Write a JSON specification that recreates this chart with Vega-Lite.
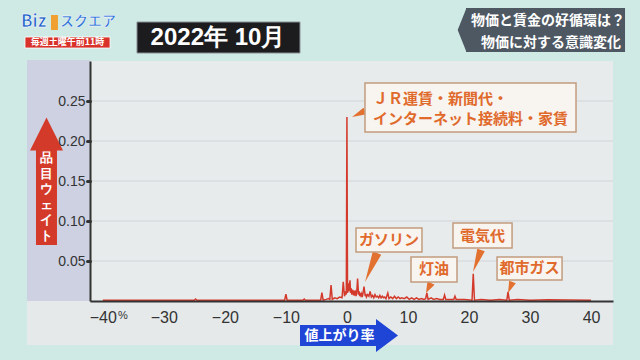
{
  "$schema": "https://vega.github.io/schema/vega-lite/v6.json",
  "width": 523,
  "height": 240,
  "autosize": {"type": "none"},
  "padding": {"left": 90, "top": 61, "right": 27, "bottom": 59},
  "background": "#cfe9e5",
  "config": {
    "view": {"fill": "#e8ebec", "stroke": null},
    "text": {"font": "Noto Sans CJK JP"}
  },
  "layer": [
    {
      "data": {"values": [{}]},
      "mark": {"type": "rect", "fill": "#cdd1e2"},
      "encoding": {
        "x": {"datum": -52.42, "type": "quantitative"},
        "x2": {"datum": -42.1},
        "y": {"datum": 0.30125, "type": "quantitative"},
        "y2": {"datum": 0}
      }
    },
    {
      "data": {"values": [{}]},
      "mark": {"type": "rect", "fill": "#e5e9ea"},
      "encoding": {
        "x": {"datum": -52.42, "type": "quantitative"},
        "x2": {"datum": 43.6},
        "y": {"datum": 0, "type": "quantitative"},
        "y2": {"datum": -0.055}
      }
    },
    {
      "data": {"values": [{"g": 0.05}, {"g": 0.1}, {"g": 0.15}, {"g": 0.2}, {"g": 0.25}]},
      "mark": {"type": "rule", "stroke": "#d2d5d8", "strokeWidth": 1},
      "encoding": {"y": {"field": "g", "type": "quantitative"}}
    },
    {
      "data": {"values": [
        {"rate": -40, "weight": 0.001},
        {"rate": -25, "weight": 0.001},
        {"rate": -24.8, "weight": 0.0025},
        {"rate": -24.6, "weight": 0.001},
        {"rate": -10.2, "weight": 0.001},
        {"rate": -10.0, "weight": 0.0085},
        {"rate": -9.8, "weight": 0.001},
        {"rate": -7.2, "weight": 0.001},
        {"rate": -7.0, "weight": 0.0025},
        {"rate": -6.8, "weight": 0.001},
        {"rate": -4.3, "weight": 0.001},
        {"rate": -4.1, "weight": 0.0105},
        {"rate": -3.9, "weight": 0.001},
        {"rate": -3.4, "weight": 0.002},
        {"rate": -3.0, "weight": 0.003},
        {"rate": -2.8, "weight": 0.002},
        {"rate": -2.6, "weight": 0.020},
        {"rate": -2.4, "weight": 0.002},
        {"rate": -2.0, "weight": 0.004},
        {"rate": -1.6, "weight": 0.003},
        {"rate": -1.2, "weight": 0.005},
        {"rate": -0.8, "weight": 0.004},
        {"rate": -0.6, "weight": 0.024},
        {"rate": -0.4, "weight": 0.006},
        {"rate": -0.2, "weight": 0.012},
        {"rate": -0.1, "weight": 0.008},
        {"rate": 0.0, "weight": 0.230},
        {"rate": 0.1, "weight": 0.010},
        {"rate": 0.2, "weight": 0.022},
        {"rate": 0.3, "weight": 0.012},
        {"rate": 0.4, "weight": 0.018},
        {"rate": 0.5, "weight": 0.026},
        {"rate": 0.6, "weight": 0.010},
        {"rate": 0.7, "weight": 0.016},
        {"rate": 0.8, "weight": 0.008},
        {"rate": 0.9, "weight": 0.014},
        {"rate": 1.0, "weight": 0.012},
        {"rate": 1.1, "weight": 0.007},
        {"rate": 1.2, "weight": 0.013},
        {"rate": 1.3, "weight": 0.009},
        {"rate": 1.4, "weight": 0.011},
        {"rate": 1.5, "weight": 0.006},
        {"rate": 1.6, "weight": 0.010},
        {"rate": 1.75, "weight": 0.028},
        {"rate": 1.9, "weight": 0.008},
        {"rate": 2.0, "weight": 0.012},
        {"rate": 2.1, "weight": 0.006},
        {"rate": 2.2, "weight": 0.010},
        {"rate": 2.3, "weight": 0.007},
        {"rate": 2.4, "weight": 0.009},
        {"rate": 2.5, "weight": 0.005},
        {"rate": 2.6, "weight": 0.008},
        {"rate": 2.8, "weight": 0.018},
        {"rate": 3.0, "weight": 0.006},
        {"rate": 3.1, "weight": 0.009},
        {"rate": 3.2, "weight": 0.005},
        {"rate": 3.4, "weight": 0.008},
        {"rate": 3.6, "weight": 0.006},
        {"rate": 3.8, "weight": 0.012},
        {"rate": 4.0, "weight": 0.005},
        {"rate": 4.2, "weight": 0.007},
        {"rate": 4.4, "weight": 0.004},
        {"rate": 4.6, "weight": 0.008},
        {"rate": 4.8, "weight": 0.005},
        {"rate": 5.0, "weight": 0.006},
        {"rate": 5.2, "weight": 0.004},
        {"rate": 5.4, "weight": 0.007},
        {"rate": 5.6, "weight": 0.004},
        {"rate": 5.8, "weight": 0.006},
        {"rate": 6.0, "weight": 0.004},
        {"rate": 6.2, "weight": 0.005},
        {"rate": 6.4, "weight": 0.003},
        {"rate": 6.7, "weight": 0.010},
        {"rate": 6.9, "weight": 0.003},
        {"rate": 7.2, "weight": 0.005},
        {"rate": 7.5, "weight": 0.003},
        {"rate": 7.8, "weight": 0.006},
        {"rate": 8.1, "weight": 0.003},
        {"rate": 8.4, "weight": 0.005},
        {"rate": 8.7, "weight": 0.003},
        {"rate": 9.0, "weight": 0.004},
        {"rate": 9.4, "weight": 0.003},
        {"rate": 9.8, "weight": 0.005},
        {"rate": 10.2, "weight": 0.002},
        {"rate": 10.6, "weight": 0.004},
        {"rate": 11.0, "weight": 0.002},
        {"rate": 11.4, "weight": 0.004},
        {"rate": 11.8, "weight": 0.002},
        {"rate": 12.2, "weight": 0.003},
        {"rate": 12.6, "weight": 0.002},
        {"rate": 12.9, "weight": 0.003},
        {"rate": 13.1, "weight": 0.010},
        {"rate": 13.3, "weight": 0.002},
        {"rate": 13.8, "weight": 0.004},
        {"rate": 14.2, "weight": 0.002},
        {"rate": 14.7, "weight": 0.003},
        {"rate": 15.2, "weight": 0.002},
        {"rate": 15.8, "weight": 0.002},
        {"rate": 16.0, "weight": 0.0075},
        {"rate": 16.2, "weight": 0.002},
        {"rate": 16.8, "weight": 0.002},
        {"rate": 17.5, "weight": 0.002},
        {"rate": 17.7, "weight": 0.006},
        {"rate": 17.9, "weight": 0.002},
        {"rate": 18.5, "weight": 0.002},
        {"rate": 19.3, "weight": 0.002},
        {"rate": 20.5, "weight": 0.001},
        {"rate": 20.7, "weight": 0.034},
        {"rate": 20.9, "weight": 0.001},
        {"rate": 22.0, "weight": 0.002},
        {"rate": 23.5, "weight": 0.001},
        {"rate": 25.0, "weight": 0.002},
        {"rate": 26.2, "weight": 0.001},
        {"rate": 26.4, "weight": 0.0115},
        {"rate": 26.6, "weight": 0.001},
        {"rate": 28.0, "weight": 0.002},
        {"rate": 30.0, "weight": 0.001},
        {"rate": 33.0, "weight": 0.0015},
        {"rate": 40.0, "weight": 0.001}
      ]},
      "mark": {"type": "line", "stroke": "#d33a2c", "strokeWidth": 1.5},
      "encoding": {
        "x": {
          "field": "rate", "type": "quantitative",
          "scale": {"domain": [-42.1, 43.6], "nice": false, "zero": false},
          "axis": {
            "title": null, "values": [-40, -30, -20, -10, 0, 10, 20, 30, 40], "format": "d",
            "domainColor": "#333333", "domainWidth": 2, "ticks": false, "grid": false,
            "labelFont": "Liberation Sans", "labelFontSize": 16, "labelColor": "#333333",
            "labelPadding": 8, "labelFlush": false, "zindex": 1
          }
        },
        "y": {
          "field": "weight", "type": "quantitative",
          "scale": {"domain": [0, 0.3], "nice": false},
          "axis": {
            "title": null, "values": [0.05, 0.1, 0.15, 0.2, 0.25], "format": ".2f",
            "domainColor": "#333333", "domainWidth": 2, "tickColor": "#333333",
            "tickSize": 3, "tickWidth": 3, "tickCap": "round", "grid": false,
            "labelFont": "Liberation Sans", "labelFontSize": 14, "labelColor": "#333333",
            "labelPadding": 2, "zindex": 1
          }
        }
      }
    },
    {
      "data": {"values": [{}]},
      "mark": {"type": "point", "shape": "M-0.29,-1 L0.29,-1 L0,1 Z", "filled": true, "fill": "#e2702e", "opacity": 1, "size": 986, "angle": 22.5},
      "encoding": {
        "x": {"datum": 3.95, "type": "quantitative"},
        "y": {"datum": 0.041875, "type": "quantitative"}
      }
    },
    {
      "data": {"values": [{}]},
      "mark": {"type": "point", "shape": "M-0.71,-1 L0.71,-1 L0,1 Z", "filled": true, "fill": "#e2702e", "opacity": 1, "size": 125, "angle": 26.6},
      "encoding": {
        "x": {"datum": 13.37, "type": "quantitative"},
        "y": {"datum": 0.01625, "type": "quantitative"}
      }
    },
    {
      "data": {"values": [{}]},
      "mark": {"type": "point", "shape": "M-0.34,-1 L0.34,-1 L0,1 Z", "filled": true, "fill": "#e2702e", "opacity": 1, "size": 548, "angle": 20},
      "encoding": {
        "x": {"datum": 21.32, "type": "quantitative"},
        "y": {"datum": 0.05, "type": "quantitative"}
      }
    },
    {
      "data": {"values": [{}]},
      "mark": {"type": "point", "shape": "M-0.6,-1 L0.6,-1 L0,1 Z", "filled": true, "fill": "#e2702e", "opacity": 1, "size": 141, "angle": 22},
      "encoding": {
        "x": {"datum": 26.77, "type": "quantitative"},
        "y": {"datum": 0.016875, "type": "quantitative"}
      }
    },
    {
      "data": {"values": [{}]},
      "mark": {"type": "point", "shape": "M-0.49,-1 L0.49,-1 L0,1 Z", "filled": true, "fill": "#e2702e", "opacity": 1, "size": 204, "angle": 65},
      "encoding": {
        "x": {"datum": 1.9, "type": "quantitative"},
        "y": {"datum": 0.23375, "type": "quantitative"}
      }
    },
    {
      "data": {"values": [{}]},
      "mark": {"type": "rect", "fill": "#f8f4f0", "stroke": "#c29c7e", "strokeWidth": 1.5},
      "encoding": {
        "x": {"datum": 2.96, "type": "quantitative"},
        "x2": {"datum": 37.54},
        "y": {"datum": 0.2725, "type": "quantitative"},
        "y2": {"datum": 0.21125}
      }
    },
    {
      "data": {"values": [{}]},
      "mark": {"type": "rect", "fill": "#f8f4f0", "stroke": "#c29c7e", "strokeWidth": 1.5},
      "encoding": {
        "x": {"datum": 1.49, "type": "quantitative"},
        "x2": {"datum": 12.3},
        "y": {"datum": 0.09125, "type": "quantitative"},
        "y2": {"datum": 0.06125}
      }
    },
    {
      "data": {"values": [{}]},
      "mark": {"type": "rect", "fill": "#f8f4f0", "stroke": "#c29c7e", "strokeWidth": 1.5},
      "encoding": {
        "x": {"datum": 10.5, "type": "quantitative"},
        "x2": {"datum": 18.04},
        "y": {"datum": 0.055, "type": "quantitative"},
        "y2": {"datum": 0.02375}
      }
    },
    {
      "data": {"values": [{}]},
      "mark": {"type": "rect", "fill": "#f8f4f0", "stroke": "#c29c7e", "strokeWidth": 1.5},
      "encoding": {
        "x": {"datum": 17.38, "type": "quantitative"},
        "x2": {"datum": 27.06},
        "y": {"datum": 0.0975, "type": "quantitative"},
        "y2": {"datum": 0.06625}
      }
    },
    {
      "data": {"values": [{}]},
      "mark": {"type": "rect", "fill": "#f8f4f0", "stroke": "#c29c7e", "strokeWidth": 1.5},
      "encoding": {
        "x": {"datum": 24.6, "type": "quantitative"},
        "x2": {"datum": 35.25},
        "y": {"datum": 0.055, "type": "quantitative"},
        "y2": {"datum": 0.02625}
      }
    },
    {
      "data": {"values": [{}]},
      "mark": {"type": "text", "text": "ＪＲ運賃・新聞代・\nインターネット接続料・家賃", "lineBreak": "\n", "lineHeight": 20, "align": "left", "baseline": "middle", "fontSize": 15, "fontWeight": "bold", "fill": "#e06a2c"},
      "encoding": {
        "x": {"datum": 4.27, "type": "quantitative"},
        "y": {"datum": 0.2525, "type": "quantitative"}
      }
    },
    {
      "data": {"values": [{}]},
      "mark": {"type": "text", "text": "ガソリン", "align": "center", "baseline": "middle", "fontSize": 15, "fontWeight": "bold", "fill": "#e06a2c"},
      "encoding": {
        "x": {"datum": 6.89, "type": "quantitative"},
        "y": {"datum": 0.07625, "type": "quantitative"}
      }
    },
    {
      "data": {"values": [{}]},
      "mark": {"type": "text", "text": "灯油", "align": "center", "baseline": "middle", "fontSize": 15, "fontWeight": "bold", "fill": "#e06a2c"},
      "encoding": {
        "x": {"datum": 14.27, "type": "quantitative"},
        "y": {"datum": 0.04, "type": "quantitative"}
      }
    },
    {
      "data": {"values": [{}]},
      "mark": {"type": "text", "text": "電気代", "align": "center", "baseline": "middle", "fontSize": 15, "fontWeight": "bold", "fill": "#e06a2c"},
      "encoding": {
        "x": {"datum": 22.22, "type": "quantitative"},
        "y": {"datum": 0.08125, "type": "quantitative"}
      }
    },
    {
      "data": {"values": [{}]},
      "mark": {"type": "text", "text": "都市ガス", "align": "center", "baseline": "middle", "fontSize": 15, "fontWeight": "bold", "fill": "#e06a2c"},
      "encoding": {
        "x": {"datum": 29.92, "type": "quantitative"},
        "y": {"datum": 0.04125, "type": "quantitative"}
      }
    },
    {
      "data": {"values": [{}]},
      "mark": {"type": "rect", "fill": "#1c1c1e", "stroke": "#8a8f94", "strokeWidth": 1},
      "encoding": {
        "x": {"datum": -34.4, "type": "quantitative"},
        "x2": {"datum": -7.69},
        "y": {"datum": 0.34875, "type": "quantitative"},
        "y2": {"datum": 0.31}
      }
    },
    {
      "data": {"values": [{}]},
      "mark": {"type": "text", "text": "2022年  10月", "align": "center", "baseline": "middle", "fontSize": 24, "fontWeight": "bold", "font": "Liberation Sans", "fill": "#ffffff"},
      "encoding": {
        "x": {"datum": -21.13, "type": "quantitative"},
        "y": {"datum": 0.32875, "type": "quantitative"}
      }
    },
    {
      "data": {"values": [{}]},
      "mark": {"type": "text", "text": "Biz", "align": "left", "baseline": "middle", "fontSize": 17, "fontWeight": "bold", "fill": "#1f5ec8", "stroke": "#ffffff", "strokeWidth": 0.6},
      "encoding": {
        "x": {"datum": -53.41, "type": "quantitative"},
        "y": {"datum": 0.34875, "type": "quantitative"}
      }
    },
    {
      "data": {"values": [{}]},
      "mark": {"type": "rect", "fill": "#f0a030"},
      "encoding": {
        "x": {"datum": -48.49, "type": "quantitative"},
        "x2": {"datum": -47.35},
        "y": {"datum": 0.3575, "type": "quantitative"},
        "y2": {"datum": 0.33875}
      }
    },
    {
      "data": {"values": [{}]},
      "mark": {"type": "text", "text": "スクエア", "align": "left", "baseline": "middle", "fontSize": 14, "fontWeight": "bold", "fill": "#2a6fd6", "stroke": "#ffffff", "strokeWidth": 0.5},
      "encoding": {
        "x": {"datum": -47.02, "type": "quantitative"},
        "y": {"datum": 0.34875, "type": "quantitative"}
      }
    },
    {
      "data": {"values": [{}]},
      "mark": {"type": "rect", "fill": "#d8322a", "stroke": "#ffffff", "strokeWidth": 0.8},
      "encoding": {
        "x": {"datum": -52.75, "type": "quantitative"},
        "x2": {"datum": -38.82},
        "y": {"datum": 0.33, "type": "quantitative"},
        "y2": {"datum": 0.31625}
      }
    },
    {
      "data": {"values": [{}]},
      "mark": {"type": "text", "text": "毎週土曜午前11時", "align": "center", "baseline": "middle", "fontSize": 9, "fontWeight": "bold", "fill": "#ffffff"},
      "encoding": {
        "x": {"datum": -45.79, "type": "quantitative"},
        "y": {"datum": 0.32325, "type": "quantitative"}
      }
    },
    {
      "data": {"values": [{}]},
      "mark": {"type": "rect", "fill": "#4e5863"},
      "encoding": {
        "x": {"datum": 19.51, "type": "quantitative"},
        "x2": {"datum": 45.57},
        "y": {"datum": 0.36625, "type": "quantitative"},
        "y2": {"datum": 0.31125}
      }
    },
    {
      "data": {"values": [{}]},
      "mark": {"type": "point", "shape": "M0,-1 L-0.4,0 L0,1 Z", "filled": true, "fill": "#4e5863", "opacity": 1, "size": 1936},
      "encoding": {
        "x": {"datum": 19.59, "type": "quantitative"},
        "y": {"datum": 0.33875, "type": "quantitative"}
      }
    },
    {
      "data": {"values": [{}]},
      "mark": {"type": "text", "text": "物価と賃金の好循環は？", "align": "center", "baseline": "middle", "fontSize": 14, "fontWeight": "bold", "fill": "#ffffff"},
      "encoding": {
        "x": {"datum": 32.95, "type": "quantitative"},
        "y": {"datum": 0.35, "type": "quantitative"}
      }
    },
    {
      "data": {"values": [{}]},
      "mark": {"type": "text", "text": "物価に対する意識変化", "align": "center", "baseline": "middle", "fontSize": 14, "fontWeight": "bold", "fill": "#ffffff"},
      "encoding": {
        "x": {"datum": 33.45, "type": "quantitative"},
        "y": {"datum": 0.3225, "type": "quantitative"}
      }
    },
    {
      "data": {"values": [{}]},
      "mark": {"type": "rect", "fill": "#d43a2a"},
      "encoding": {
        "x": {"datum": -50.95, "type": "quantitative"},
        "x2": {"datum": -47.51},
        "y": {"datum": 0.18875, "type": "quantitative"},
        "y2": {"datum": 0.07}
      }
    },
    {
      "data": {"values": [{}]},
      "mark": {"type": "point", "shape": "M0,-1 L1,1 L-1,1 Z", "filled": true, "fill": "#d43a2a", "opacity": 1, "size": 1089},
      "encoding": {
        "x": {"datum": -49.23, "type": "quantitative"},
        "y": {"datum": 0.20875, "type": "quantitative"}
      }
    },
    {
      "data": {"values": [{}]},
      "mark": {"type": "text", "text": "品\n目\nウ\nェ\nイ\nト", "lineBreak": "\n", "lineHeight": 15.5, "align": "center", "baseline": "middle", "fontSize": 13, "fontWeight": "bold", "font": "Liberation Sans", "fill": "#ffffff"},
      "encoding": {
        "x": {"datum": -49.23, "type": "quantitative"},
        "y": {"datum": 0.17875, "type": "quantitative"}
      }
    },
    {
      "data": {"values": [{}]},
      "mark": {"type": "rect", "fill": "#1f45d6"},
      "encoding": {
        "x": {"datum": -7.69, "type": "quantitative"},
        "x2": {"datum": 4.93},
        "y": {"datum": -0.03, "type": "quantitative"},
        "y2": {"datum": -0.05625}
      }
    },
    {
      "data": {"values": [{}]},
      "mark": {"type": "point", "shape": "M-0.667,-1 L0.667,0 L-0.667,1 Z", "filled": true, "fill": "#1f45d6", "opacity": 1, "size": 1089},
      "encoding": {
        "x": {"datum": 6.57, "type": "quantitative"},
        "y": {"datum": -0.04313, "type": "quantitative"}
      }
    },
    {
      "data": {"values": [{}]},
      "mark": {"type": "text", "text": "値上がり率", "align": "center", "baseline": "middle", "fontSize": 14, "fontWeight": "bold", "fill": "#ffffff"},
      "encoding": {
        "x": {"datum": -1.2, "type": "quantitative"},
        "y": {"datum": -0.04375, "type": "quantitative"}
      }
    },
    {
      "data": {"values": [{}]},
      "mark": {"type": "text", "text": "%", "align": "center", "baseline": "middle", "fontSize": 11, "font": "Liberation Sans", "fill": "#333333"},
      "encoding": {
        "x": {"datum": -36.69, "type": "quantitative"},
        "y": {"datum": -0.01875, "type": "quantitative"}
      }
    }
  ]
}
